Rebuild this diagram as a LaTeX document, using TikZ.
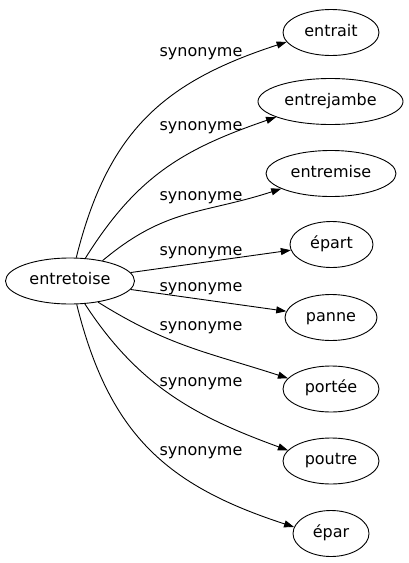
\documentclass[tikz,border=0pt]{standalone}
\usepackage{fontspec}
\setmainfont{DejaVu Sans}
\usetikzlibrary{arrows.meta,shapes.geometric}
\tikzset{
    EL1/.style ={ellipse, draw=black, line width=0.9pt, minimum height=46pt, inner sep=0pt,
        text height=11.5pt, text depth=4pt, font=\fontsize{16}{19}\selectfont},
    LB1/.style ={anchor=base, inner sep=0pt, font=\fontsize{16}{19}\selectfont},
    AR1/.style ={line width=0.9pt, -{Triangle[length=10pt,width=7pt]}}
}
\begin{document}
\begin{tikzpicture}[x=1pt,y=1pt]
        \useasboundingbox (0,0) rectangle (409,-563);
        \node[EL1, minimum width=129pt] (ent) at (70,-281) {entretoise};
        \node[EL1, minimum width=96pt] (entrait) at (331,-32.5) {entrait};
        \node[EL1, minimum width=145pt] (entrejambe) at (330.5,-101.5) {entrejambe};
        \node[EL1, minimum width=130pt] (entremise) at (331,-173.5) {entremise};
        \node[EL1, minimum width=83pt] (epart) at (331.5,-244.5) {épart};
        \node[EL1, minimum width=92pt] (panne) at (331,-317.5) {panne};
        \node[EL1, minimum width=96pt] (portee) at (331,-389) {portée};
        \node[EL1, minimum width=96pt] (poutre) at (331,-461) {poutre};
        \node[EL1, minimum width=76pt] (epar) at (331,-533.5) {épar};
        \draw[AR1] (ent.75) to[out=76,in=198,looseness=1.1] (entrait.192);
        \draw[AR1] (ent.56) to[out=58,in=199,looseness=1.05] (entrejambe.196);
        \draw[AR1] (ent.32) to[out=40,in=198,looseness=1.1] (entremise.197);
        \draw[AR1] (ent) -- (epart);
        \draw[AR1] (ent) -- (panne);
        \draw[AR1] (ent.-37) to[out=-32,in=162,looseness=1.05] (portee.166);
        \draw[AR1] (ent.-57) to[out=-57,in=160] (poutre.166);
        \draw[AR1] (ent.-74) to[out=-76,in=162,looseness=1.1] (epar.170);
        \node[LB1] (s1) at (201,-56.7) {synonyme};
        \node[LB1] (s2) at (201,-130.7) {synonyme};
        \node[LB1] (s3) at (201,-200) {synonyme};
        \node[LB1] (s4) at (201,-255) {synonyme};
        \node[LB1] (s5) at (201,-291.7) {synonyme};
        \node[LB1] (s6) at (201,-330) {synonyme};
        \node[LB1] (s7) at (201,-386) {synonyme};
        \node[LB1] (s8) at (201,-455.7) {synonyme};
    \end{tikzpicture}
\end{document}
